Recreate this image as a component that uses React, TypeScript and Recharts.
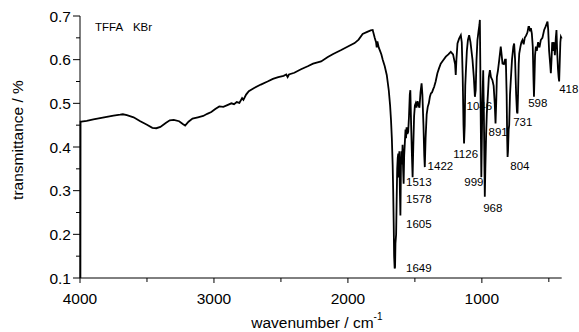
import React from "react";
import { ComposedChart, Line, Scatter, XAxis, YAxis } from "recharts";

const WAVENUMBERS = [
  3997, 3996, 3990, 3950, 3900, 3850, 3800, 3750, 3700, 3680, 3650, 3600, 3550, 3500, 3460, 3430, 3400, 3360, 3330, 3300,
  3260, 3230, 3215, 3190, 3160, 3120, 3080, 3050, 3020, 2990, 2960, 2930, 2900, 2870, 2850, 2830, 2810, 2790, 2780, 2760,
  2740, 2700, 2650, 2600, 2560, 2520, 2480, 2460, 2450, 2440, 2400, 2350, 2300, 2260, 2200, 2150, 2110, 2050, 2000, 1950,
  1920, 1890, 1860, 1830, 1815, 1800, 1790, 1785, 1780, 1770, 1760, 1750, 1740, 1725, 1710, 1695, 1685, 1678, 1672, 1666,
  1662, 1658, 1655, 1651, 1648, 1645, 1640, 1636, 1632, 1628, 1624, 1620, 1616, 1612, 1608, 1604, 1600, 1596, 1592, 1588,
  1584, 1580, 1575, 1570, 1566, 1562, 1556, 1550, 1544, 1538, 1534, 1528, 1522, 1517, 1512, 1506, 1500, 1494, 1488, 1480,
  1472, 1466, 1458, 1450, 1444, 1436, 1430, 1426, 1420, 1412, 1404, 1396, 1388, 1380, 1372, 1364, 1356, 1345, 1332, 1320,
  1307, 1290, 1269, 1250, 1232, 1215, 1200, 1195, 1190, 1182, 1170, 1157, 1150, 1143, 1137, 1133, 1128, 1124, 1120, 1112,
  1104, 1095, 1085, 1070, 1060, 1052, 1046, 1040, 1033, 1025, 1018, 1015, 1012, 1008, 1004, 1000, 996, 990, 985, 981,
  978, 974, 968, 963, 955, 948, 940, 932, 921, 912, 904, 898, 893, 888, 880, 870, 859, 852, 846, 835,
  827, 821, 815, 811, 808, 805, 800, 796, 790, 784, 775, 765, 759, 752, 744, 738, 734, 730, 725, 721,
  712, 705, 697, 688, 680, 670, 660, 652, 647, 640, 634, 627, 620, 615, 611, 607, 603, 597, 590, 580,
  570, 560, 548, 535, 525, 515, 510, 505, 498, 490, 485, 480, 475, 468, 462, 455, 448, 443, 438, 432,
  427, 423, 418, 414, 410, 404,
];

const TRANSMITTANCE = [
  0.1, 0.458, 0.458, 0.46, 0.463, 0.466, 0.469, 0.472, 0.474, 0.475, 0.473, 0.468, 0.459, 0.451, 0.444, 0.443, 0.446, 0.455, 0.461, 0.462,
  0.459, 0.452, 0.449, 0.458, 0.465, 0.468, 0.471, 0.476, 0.48, 0.487, 0.493, 0.492, 0.496, 0.5, 0.498, 0.503, 0.501, 0.512, 0.508, 0.52,
  0.528, 0.535, 0.543, 0.55, 0.556, 0.56, 0.563, 0.566, 0.56, 0.566, 0.57, 0.578, 0.585, 0.591, 0.596, 0.606, 0.613, 0.622, 0.63, 0.638,
  0.646, 0.659, 0.663, 0.667, 0.668, 0.65, 0.64, 0.628, 0.642, 0.628, 0.62, 0.612, 0.6, 0.585, 0.565, 0.53, 0.495, 0.46, 0.42, 0.36,
  0.3, 0.22, 0.15, 0.122, 0.125, 0.18, 0.2, 0.28, 0.35, 0.375, 0.385, 0.33, 0.39, 0.3, 0.243, 0.36, 0.39, 0.36, 0.405, 0.35,
  0.316, 0.38, 0.41, 0.44, 0.42, 0.445, 0.43, 0.435, 0.47, 0.52, 0.53, 0.45, 0.38, 0.331, 0.4, 0.47, 0.495, 0.5, 0.49, 0.505,
  0.495, 0.49, 0.525, 0.546, 0.52, 0.45, 0.38, 0.354, 0.42, 0.475, 0.492, 0.5, 0.515, 0.523, 0.525, 0.532, 0.538, 0.55, 0.569, 0.58,
  0.591, 0.598, 0.607, 0.612, 0.618, 0.612, 0.59, 0.565, 0.6, 0.637, 0.648, 0.656, 0.64, 0.56, 0.45, 0.408, 0.45, 0.54, 0.569, 0.62,
  0.645, 0.656, 0.64, 0.6, 0.56, 0.515, 0.53, 0.6, 0.645, 0.665, 0.68, 0.691, 0.6, 0.45, 0.331, 0.42, 0.5, 0.576, 0.48, 0.36,
  0.286, 0.35, 0.43, 0.477, 0.52, 0.56, 0.576, 0.56, 0.553, 0.54, 0.5, 0.454, 0.5, 0.56, 0.575, 0.6, 0.63, 0.61, 0.591, 0.59,
  0.6, 0.6, 0.52, 0.42, 0.377, 0.39, 0.44, 0.45, 0.52, 0.553, 0.6, 0.63, 0.637, 0.6, 0.52, 0.48, 0.477, 0.52, 0.59, 0.614,
  0.63, 0.64, 0.645, 0.635, 0.65, 0.655, 0.662, 0.675, 0.675, 0.665, 0.672, 0.66, 0.63, 0.56, 0.515, 0.56, 0.61, 0.63, 0.62, 0.64,
  0.628, 0.645, 0.65, 0.668, 0.675, 0.683, 0.687, 0.67, 0.62, 0.59, 0.569, 0.6, 0.64, 0.62, 0.64, 0.61, 0.65, 0.668, 0.62, 0.58,
  0.56, 0.55, 0.6, 0.64, 0.652, 0.648,
];

// annotation texts and their anchor (data units)
const LABEL_TEXTS = ["TFFA", "KBr", "1649", "1605", "1578", "1513", "1422", "1126", "999", "968", "1046", "891", "804", "731", "598", "418"];
const LABEL_WN = [3888, 3605, 1566, 1566, 1566, 1566, 1405, 1213, 1131, 990, 1114, 950, 788, 766, 654, 423];
const LABEL_T = [0.675, 0.675, 0.124, 0.223, 0.28, 0.32, 0.356, 0.385, 0.319, 0.261, 0.494, 0.435, 0.356, 0.458, 0.5, 0.532];

const X_TICKS = [4000, 3500, 3000, 2500, 2000, 1500, 1000, 500];
const Y_TICKS = [0.1, 0.15, 0.2, 0.25, 0.3, 0.35, 0.4, 0.45, 0.5, 0.55, 0.6, 0.65, 0.7];

const spectrum = WAVENUMBERS.map((wn, i) => ({ wn, t: TRANSMITTANCE[i] }));
const labels = LABEL_TEXTS.map((text, i) => ({ wn: LABEL_WN[i], t: LABEL_T[i], text }));

const FONT = "'Liberation Sans', Arial, sans-serif";

const YTick = (props: any) => {
  const { x, y, payload } = props;
  const v = payload.value;
  const major = Math.abs(v * 10 - Math.round(v * 10)) < 1e-6;
  return (
    <g>
      <line x1={x} x2={x - (major ? 7 : 4)} y1={y} y2={y} stroke="#000" strokeWidth={1} />
      {major && (
        <text x={x - 9} y={y} textAnchor="end" dominantBaseline="central" fontSize={15.5} fontFamily={FONT} fill="#000">
          {v.toFixed(1)}
        </text>
      )}
    </g>
  );
};

const XTick = (props: any) => {
  const { x, y, payload } = props;
  const v = payload.value;
  const major = v % 1000 === 0;
  return (
    <g>
      <line x1={x} x2={x} y1={y} y2={y + (major ? 5 : 4)} stroke="#000" strokeWidth={1} />
      {major && (
        <text x={x} y={y + 20} textAnchor="middle" dominantBaseline="central" fontSize={15.5} fontFamily={FONT} fill="#000">
          {v}
        </text>
      )}
    </g>
  );
};

const LabelShape = (props: any) => {
  const { cx, cy, payload } = props;
  return (
    <text x={cx} y={cy} dominantBaseline="central" fontSize={11.5} fontFamily={FONT} fill="#000" stroke="none">
      {payload.text}
    </text>
  );
};

const XLabel = (props: any) => {
  const { viewBox } = props;
  const cx = viewBox.x + viewBox.width / 2 - 4;
  return (
    <text x={cx} y={viewBox.y + 44} textAnchor="middle" dominantBaseline="central" fontSize={15.5} fontFamily={FONT} fill="#000">
      wavenumber / cm
      <tspan dy={-6} fontSize={10}>-1</tspan>
    </text>
  );
};

const YLabel = (props: any) => {
  const { viewBox } = props;
  const cy = viewBox.y + 124;
  const cx = 17;
  return (
    <text x={cx} y={cy} textAnchor="middle" dominantBaseline="central" fontSize={15.5} fontFamily={FONT} fill="#000" transform={`rotate(-90 ${cx} ${cy})`}>
      transmittance / %
    </text>
  );
};

export default function App() {
  return (
    <div style={{ position: "absolute", left: 0, top: 0, width: 579, height: 332 }}>
      <ComposedChart width={579} height={332} margin={{ top: 16, right: 17.3, bottom: 0, left: 0 }} style={{ overflow: "visible" }}>
        <XAxis
          type="number"
          dataKey="wn"
          domain={[410, 4000]}
          reversed
          ticks={X_TICKS}
          interval={0}
          height={54}
          tickSize={0}
          tickMargin={0}
          tickLine={false}
          tick={<XTick />}
          axisLine={{ stroke: "#000", strokeWidth: 1 }}
          label={<XLabel />}
        />
        <YAxis
          type="number"
          dataKey="t"
          domain={[0.1, 0.7]}
          ticks={Y_TICKS}
          interval={0}
          width={80}
          tickSize={0}
          tickMargin={0}
          tickLine={false}
          tick={<YTick />}
          axisLine={{ stroke: "#000", strokeWidth: 1 }}
          label={<YLabel />}
        />
        <Line
          data={spectrum}
          dataKey="t"
          type="linear"
          stroke="#000"
          strokeWidth={1.8}
          dot={false}
          isAnimationActive={false}
        />
        <Scatter data={labels} dataKey="t" shape={<LabelShape />} isAnimationActive={false} />
      </ComposedChart>
    </div>
  );
}
